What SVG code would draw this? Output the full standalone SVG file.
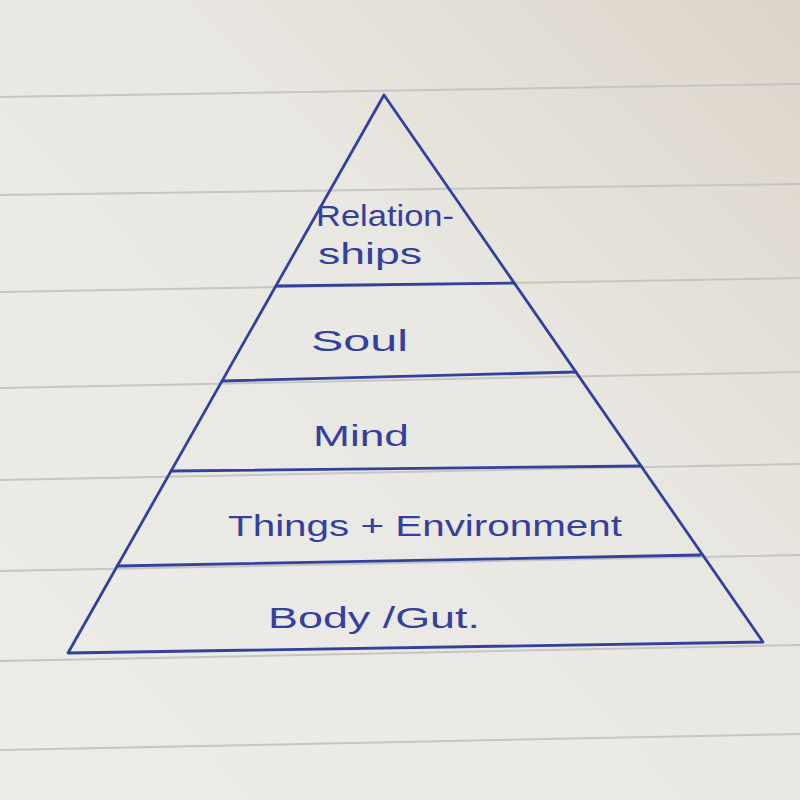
<svg xmlns="http://www.w3.org/2000/svg" width="800" height="800" viewBox="0 0 800 800">
  <defs>
    <linearGradient id="paper" x1="0" y1="1" x2="1" y2="0">
      <stop offset="0" stop-color="#ecece9"/>
      <stop offset="0.6" stop-color="#e9e7e2"/>
      <stop offset="1" stop-color="#dcd4c9"/>
    </linearGradient>
  </defs>
  <style>
    .rule { stroke: #c6c5c2; stroke-width: 2; fill: none; }
    .ink { stroke: #33409c; stroke-width: 2.8; fill: none; stroke-linecap: round; stroke-linejoin: round; }
    .label { font-family: "Liberation Sans", "DejaVu Sans", sans-serif; fill: #34409e; font-size: 30px; }
  </style>
  <rect x="0" y="0" width="800" height="800" fill="url(#paper)"/>
  <g id="paper-rules">
    <line class="rule" x1="0" y1="97" x2="800" y2="84"/>
    <line class="rule" x1="0" y1="195" x2="800" y2="184"/>
    <line class="rule" x1="0" y1="292" x2="800" y2="278"/>
    <line class="rule" x1="0" y1="388" x2="800" y2="372"/>
    <line class="rule" x1="0" y1="480" x2="800" y2="464"/>
    <line class="rule" x1="0" y1="571" x2="800" y2="555"/>
    <line class="rule" x1="0" y1="661" x2="800" y2="645"/>
    <line class="rule" x1="0" y1="750" x2="800" y2="734"/>
  </g>
  <g id="pyramid">
    <polygon class="ink" points="384,95 763,642 68,653"/>
  </g>
  <g id="connectors">
    <line class="ink" x1="276" y1="286" x2="514" y2="283"/>
    <line class="ink" x1="222" y1="381" x2="576" y2="372"/>
    <line class="ink" x1="171" y1="471" x2="641" y2="466"/>
    <line class="ink" x1="117" y1="566" x2="700" y2="555"/>
  </g>
  <g id="tier-relationships">
    <text class="label" x="316" y="226" textLength="138" lengthAdjust="spacingAndGlyphs" font-size="24">Relation-</text>
    <text class="label" x="318" y="264" textLength="104" lengthAdjust="spacingAndGlyphs" font-size="24">ships</text>
  </g>
  <g id="tier-soul">
    <text class="label" x="311" y="351" textLength="97" lengthAdjust="spacingAndGlyphs">Soul</text>
  </g>
  <g id="tier-mind">
    <text class="label" x="313" y="446" textLength="96" lengthAdjust="spacingAndGlyphs" font-size="32">Mind</text>
  </g>
  <g id="tier-things">
    <text class="label" x="228" y="536" textLength="394" lengthAdjust="spacingAndGlyphs">Things + Environment</text>
  </g>
  <g id="tier-body">
    <text class="label" x="268" y="628" textLength="212" lengthAdjust="spacingAndGlyphs" font-size="32">Body /Gut.</text>
  </g>
</svg>
